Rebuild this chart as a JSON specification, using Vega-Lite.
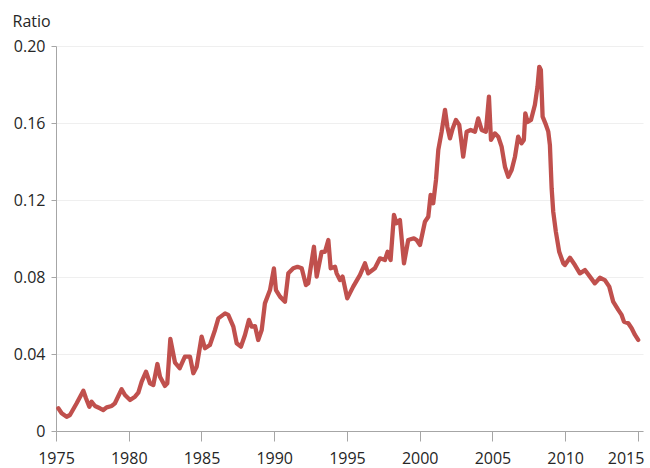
{
  "$schema": "https://vega.github.io/schema/vega-lite/v6.json",
  "autosize": "none",
  "width": 587,
  "height": 385,
  "padding": {"left": 56, "top": 46, "right": 7, "bottom": 37},
  "background": "white",
  "config": {
    "view": {"stroke": null},
    "font": "Open Sans"
  },
  "data": {
    "values": [
      {"year": 1975.16, "ratio": 0.0118},
      {"year": 1975.39, "ratio": 0.0092},
      {"year": 1975.73, "ratio": 0.0074},
      {"year": 1975.96, "ratio": 0.0083},
      {"year": 1976.42, "ratio": 0.0144},
      {"year": 1976.88, "ratio": 0.0209},
      {"year": 1977.06, "ratio": 0.017},
      {"year": 1977.29, "ratio": 0.0126},
      {"year": 1977.45, "ratio": 0.0152},
      {"year": 1977.68, "ratio": 0.013},
      {"year": 1978.02, "ratio": 0.0118},
      {"year": 1978.25, "ratio": 0.0109},
      {"year": 1978.48, "ratio": 0.0123},
      {"year": 1978.83, "ratio": 0.013},
      {"year": 1979.05, "ratio": 0.0144},
      {"year": 1979.51, "ratio": 0.0217},
      {"year": 1979.74, "ratio": 0.0187},
      {"year": 1980.09, "ratio": 0.0161},
      {"year": 1980.43, "ratio": 0.0178},
      {"year": 1980.66, "ratio": 0.0199},
      {"year": 1980.89, "ratio": 0.0256},
      {"year": 1981.19, "ratio": 0.0308},
      {"year": 1981.46, "ratio": 0.0248},
      {"year": 1981.69, "ratio": 0.0239},
      {"year": 1981.97, "ratio": 0.0348},
      {"year": 1982.15, "ratio": 0.0282},
      {"year": 1982.49, "ratio": 0.0234},
      {"year": 1982.65, "ratio": 0.0248},
      {"year": 1982.86, "ratio": 0.0478},
      {"year": 1983.18, "ratio": 0.0355},
      {"year": 1983.5, "ratio": 0.0326},
      {"year": 1983.86, "ratio": 0.0386},
      {"year": 1984.21, "ratio": 0.0386},
      {"year": 1984.44, "ratio": 0.030},
      {"year": 1984.67, "ratio": 0.0334},
      {"year": 1985.01, "ratio": 0.049},
      {"year": 1985.24, "ratio": 0.043},
      {"year": 1985.58, "ratio": 0.0447},
      {"year": 1985.93, "ratio": 0.0525},
      {"year": 1986.16, "ratio": 0.0585},
      {"year": 1986.62, "ratio": 0.0611},
      {"year": 1986.84, "ratio": 0.0603},
      {"year": 1987.19, "ratio": 0.0542},
      {"year": 1987.42, "ratio": 0.0456},
      {"year": 1987.71, "ratio": 0.0438},
      {"year": 1987.99, "ratio": 0.0499},
      {"year": 1988.26, "ratio": 0.0577},
      {"year": 1988.45, "ratio": 0.0542},
      {"year": 1988.68, "ratio": 0.0545},
      {"year": 1988.9, "ratio": 0.0473},
      {"year": 1989.14, "ratio": 0.0525},
      {"year": 1989.36, "ratio": 0.0663},
      {"year": 1989.71, "ratio": 0.0732},
      {"year": 1989.98, "ratio": 0.0845},
      {"year": 1990.12, "ratio": 0.0732},
      {"year": 1990.4, "ratio": 0.0698},
      {"year": 1990.74, "ratio": 0.0672},
      {"year": 1990.97, "ratio": 0.0819},
      {"year": 1991.31, "ratio": 0.0845},
      {"year": 1991.6, "ratio": 0.0853},
      {"year": 1991.89, "ratio": 0.0845},
      {"year": 1992.18, "ratio": 0.0758},
      {"year": 1992.34, "ratio": 0.0767},
      {"year": 1992.73, "ratio": 0.0957},
      {"year": 1992.92, "ratio": 0.0802},
      {"year": 1993.26, "ratio": 0.0931},
      {"year": 1993.49, "ratio": 0.0931},
      {"year": 1993.72, "ratio": 0.0992},
      {"year": 1993.88, "ratio": 0.0845},
      {"year": 1994.18, "ratio": 0.0853},
      {"year": 1994.29, "ratio": 0.0819},
      {"year": 1994.52, "ratio": 0.0784},
      {"year": 1994.7, "ratio": 0.0802},
      {"year": 1995.02, "ratio": 0.0689},
      {"year": 1995.43, "ratio": 0.075},
      {"year": 1995.89, "ratio": 0.081},
      {"year": 1996.24, "ratio": 0.0871},
      {"year": 1996.46, "ratio": 0.0819},
      {"year": 1996.92, "ratio": 0.0845},
      {"year": 1997.27, "ratio": 0.0897},
      {"year": 1997.61, "ratio": 0.0888},
      {"year": 1997.79, "ratio": 0.0931},
      {"year": 1998.0, "ratio": 0.0888},
      {"year": 1998.23, "ratio": 0.1122},
      {"year": 1998.41, "ratio": 0.1079},
      {"year": 1998.64, "ratio": 0.1096},
      {"year": 1998.92, "ratio": 0.0871},
      {"year": 1999.21, "ratio": 0.0992},
      {"year": 1999.6, "ratio": 0.1001},
      {"year": 1999.79, "ratio": 0.0992},
      {"year": 2000.02, "ratio": 0.0966},
      {"year": 2000.36, "ratio": 0.1087},
      {"year": 2000.59, "ratio": 0.1113},
      {"year": 2000.75, "ratio": 0.1226},
      {"year": 2000.93, "ratio": 0.1183},
      {"year": 2001.12, "ratio": 0.1304},
      {"year": 2001.28, "ratio": 0.146},
      {"year": 2001.51, "ratio": 0.1555},
      {"year": 2001.74, "ratio": 0.1668},
      {"year": 2001.9, "ratio": 0.1581},
      {"year": 2002.08, "ratio": 0.152},
      {"year": 2002.27, "ratio": 0.1572},
      {"year": 2002.49, "ratio": 0.1616},
      {"year": 2002.72, "ratio": 0.159},
      {"year": 2002.88, "ratio": 0.1495},
      {"year": 2002.99, "ratio": 0.1425},
      {"year": 2003.23, "ratio": 0.1555},
      {"year": 2003.5, "ratio": 0.1564},
      {"year": 2003.8, "ratio": 0.1555},
      {"year": 2004.02, "ratio": 0.1624},
      {"year": 2004.26, "ratio": 0.1564},
      {"year": 2004.55, "ratio": 0.1555},
      {"year": 2004.76, "ratio": 0.1737},
      {"year": 2004.9, "ratio": 0.1512},
      {"year": 2005.17, "ratio": 0.1546},
      {"year": 2005.4, "ratio": 0.1529},
      {"year": 2005.63, "ratio": 0.1477},
      {"year": 2005.86, "ratio": 0.1373},
      {"year": 2006.09, "ratio": 0.1321},
      {"year": 2006.32, "ratio": 0.1356},
      {"year": 2006.55, "ratio": 0.1425},
      {"year": 2006.77, "ratio": 0.1529},
      {"year": 2007.0, "ratio": 0.1495},
      {"year": 2007.16, "ratio": 0.1512},
      {"year": 2007.26, "ratio": 0.165},
      {"year": 2007.42, "ratio": 0.1605},
      {"year": 2007.65, "ratio": 0.1616},
      {"year": 2007.92, "ratio": 0.1695},
      {"year": 2008.1, "ratio": 0.179},
      {"year": 2008.22, "ratio": 0.1892},
      {"year": 2008.33, "ratio": 0.1875},
      {"year": 2008.45, "ratio": 0.1633},
      {"year": 2008.68, "ratio": 0.159},
      {"year": 2008.84, "ratio": 0.1555},
      {"year": 2008.95, "ratio": 0.1486},
      {"year": 2009.07, "ratio": 0.1261},
      {"year": 2009.18, "ratio": 0.1139},
      {"year": 2009.36, "ratio": 0.1035},
      {"year": 2009.59, "ratio": 0.0931},
      {"year": 2009.87, "ratio": 0.0871},
      {"year": 2009.98, "ratio": 0.0862},
      {"year": 2010.33, "ratio": 0.09},
      {"year": 2010.67, "ratio": 0.0862},
      {"year": 2011.01, "ratio": 0.0819},
      {"year": 2011.36, "ratio": 0.0836},
      {"year": 2011.7, "ratio": 0.0802},
      {"year": 2012.04, "ratio": 0.0767},
      {"year": 2012.39, "ratio": 0.0796},
      {"year": 2012.73, "ratio": 0.0784},
      {"year": 2013.03, "ratio": 0.075},
      {"year": 2013.3, "ratio": 0.0672},
      {"year": 2013.65, "ratio": 0.0629},
      {"year": 2013.88, "ratio": 0.0603},
      {"year": 2014.04, "ratio": 0.0568},
      {"year": 2014.34, "ratio": 0.056},
      {"year": 2014.57, "ratio": 0.0534},
      {"year": 2014.8, "ratio": 0.0499},
      {"year": 2015.02, "ratio": 0.0473}
    ]
  },
  "mark": {"type": "line", "color": "#c0504d", "strokeWidth": 4.3, "strokeCap": "round", "strokeJoin": "round"},
  "encoding": {
    "x": {
      "field": "year",
      "type": "quantitative",
      "scale": {"domain": [1975, 2015.35], "nice": false, "zero": false},
      "axis": {
        "values": [1975, 1980, 1985, 1990, 1995, 2000, 2005, 2010, 2015],
        "format": "d",
        "title": null,
        "grid": false,
        "domainColor": "#a6a6a6",
        "domainWidth": 1,
        "tickColor": "#a6a6a6",
        "tickSize": 10,
        "labelFontSize": 16,
        "labelColor": "#262626",
        "labelPadding": 9,
        "labelFont": "Open Sans",
        "labelFlush": false,
        "labelOverlap": false,
        "labelBound": false,
        "labelAlign": {"condition": {"test": "datum.value == 2015", "value": "right"}, "value": "center"},
        "labelOffset": {"condition": {"test": "datum.value == 2015", "value": 6}, "value": 0}
      }
    },
    "y": {
      "field": "ratio",
      "type": "quantitative",
      "scale": {"domain": [0, 0.2], "nice": false},
      "axis": {
        "values": [0, 0.04, 0.08, 0.12, 0.16, 0.2],
        "labelExpr": "datum.value == 0 ? '0' : format(datum.value, '.2f')",
        "title": "Ratio",
        "titleAngle": 0,
        "titleAlign": "left",
        "titleBaseline": "alphabetic",
        "titleX": -44,
        "titleY": -20,
        "titleFontSize": 16,
        "titleFontWeight": "normal",
        "titleColor": "#262626",
        "titleFont": "Open Sans",
        "grid": true,
        "gridColor": "#efefef",
        "gridWidth": 1,
        "domainColor": "#a6a6a6",
        "tickColor": "#a6a6a6",
        "tickSize": 5,
        "labelFontSize": 16,
        "labelColor": "#262626",
        "labelPadding": 6,
        "labelFont": "Open Sans"
      }
    }
  }
}
